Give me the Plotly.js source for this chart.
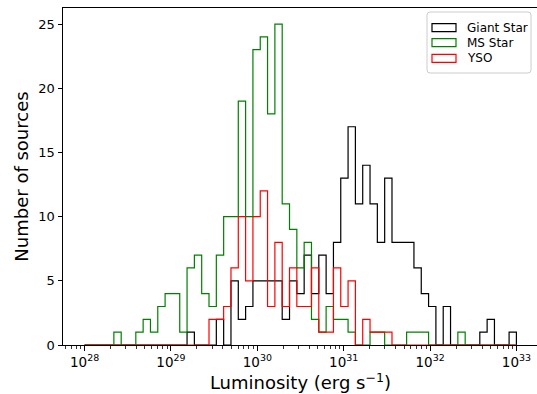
<!DOCTYPE html>
<html><head><meta charset="utf-8">
<script src="https://cdn.plot.ly/plotly-3.0.1.min.js"></script>
<style>html,body{margin:0;padding:0;overflow:hidden;background:#fff}#plot{width:540px;height:394px}</style>
</head><body><div id="plot"></div><script>
// Series and labels
const seriesNames = ['Giant Star', 'MS Star', 'YSO'];
const seriesColors = ['black', 'green', 'red'];
// histogram binning: log-spaced edges from 1e28 to 1e33
const logBinStart = 28, logBinStop = 33, binCount = 59;
// counts per bin
const giantStar = [0,0,0,0,0,0,0,0,0,0, 0,0,0,0,1,0,0,0,2,0, 5,2,3,5,5,5,5,2,5,4, 7,4,7,4,8,13,17,11,14,11, 8,13,8,8,8,6,4,3,0,3, 0,0,0,0,1,2,0,0,1];
const msStar    = [0,0,0,0,1,0,0,1,2,1, 3,4,4,1,6,7,4,3,7,10, 10,19,10,23,24,18,25,11,9,6, 8,2,1,3,2,2,1,0,0,1, 1,0,0,0,1,1,1,0,0,0, 0,1,0,0,0,0,0,0,0];
const yso       = [0,0,0,0,0,0,0,0,0,0, 0,0,0,0,0,0,0,2,2,3, 6,10,5,10,12,3,8,3,6,3, 3,6,1,1,6,3,5,0,2,1, 1,1,0,0,0,0,0,0,0,0, 0,0,0,0,0,0,0,0,0];
const xTickVals = [1e28, 1e29, 1e30, 1e31, 1e32, 1e33];
const xTickText = ['10<sup>28</sup>','10<sup>29</sup>','10<sup>30</sup>','10<sup>31</sup>','10<sup>32</sup>','10<sup>33</sup>'];
const yTickVals = [0, 5, 10, 15, 20, 25];
const xTitle = 'Luminosity (erg s<sup>\u22121</sup>)';
const yTitle = 'Number of sources';

const edges = [];
for (let k = 0; k <= binCount; k++) edges.push(Math.pow(10, logBinStart + (logBinStop - logBinStart) * k / binCount));

function stepTrace(counts, name, color) {
  const x = [edges[0]], y = [0];
  for (let k = 0; k < counts.length; k++) {
    x.push(edges[k], edges[k + 1]);
    y.push(counts[k], counts[k]);
  }
  x.push(edges[counts.length]); y.push(0);
  return {x, y, type: 'scatter', mode: 'lines', name, showlegend: false,
          line: {color, width: 1.2, shape: 'linear'}, hoverinfo: 'skip'};
}
const allCounts = [giantStar, msStar, yso];
const traces = allCounts.map((c, i) => stepTrace(c, seriesNames[i], seriesColors[i]));

const minorVals = [];
for (let d = 27; d <= 33; d++) for (let m = 2; m <= 9; m++) minorVals.push(m * Math.pow(10, d));

// manual legend (patch style)
const shapes = [];
const annotations = [];
const R = 3;
const bx0 = -111, bx1 = -7, by0 = -65, by1 = -4;
shapes.push({type: 'path', xref: 'paper', yref: 'paper', xsizemode: 'pixel', ysizemode: 'pixel', xanchor: 1, yanchor: 1,
  path: `M ${bx0+R} ${by1} L ${bx1-R} ${by1} Q ${bx1} ${by1} ${bx1} ${by1-R} L ${bx1} ${by0+R} Q ${bx1} ${by0} ${bx1-R} ${by0} L ${bx0+R} ${by0} Q ${bx0} ${by0} ${bx0} ${by0+R} L ${bx0} ${by1-R} Q ${bx0} ${by1} ${bx0+R} ${by1} Z`,
  line: {color: '#cccccc', width: 1}, fillcolor: 'rgba(255,255,255,0.8)'});
const rowY = [-19.7, -34.7, -50.3];
seriesNames.forEach((nm, i) => {
  shapes.push({type: 'rect', xref: 'paper', yref: 'paper', xsizemode: 'pixel', ysizemode: 'pixel', xanchor: 1, yanchor: 1,
    x0: -106, x1: -82, y0: rowY[i] - 4, y1: rowY[i] + 4, line: {color: seriesColors[i], width: 1.2}, fillcolor: 'rgba(0,0,0,0)'});
  annotations.push({xref: 'paper', yref: 'paper', x: 1, y: 1, xshift: -73, yshift: rowY[i], xanchor: 'left', yanchor: 'middle',
    text: nm, showarrow: false, font: {family: 'DejaVu Sans', size: 12, color: '#000'}});
});

const layout = {
  width: 540, height: 394,
  margin: {l: 63, r: 2, t: 8, b: 49},
  paper_bgcolor: '#fff', plot_bgcolor: '#fff',
  font: {family: 'DejaVu Sans', size: 12, color: '#000'},
  showlegend: false,
  xaxis: {type: 'log', range: [27.75, 33.25], showgrid: false, zeroline: false,
    showline: true, linecolor: '#000', linewidth: 1, mirror: true,
    tickmode: 'array', tickvals: xTickVals, ticktext: xTickText,
    ticks: 'outside', ticklen: 4.5, tickwidth: 1, tickcolor: '#000',
    tickfont: {family: 'DejaVu Sans', size: 13.5},
    minor: {tickmode: 'array', tickvals: minorVals, ticks: 'outside', ticklen: 2.5, tickwidth: 0.8, tickcolor: '#000', showgrid: false},
    title: {text: xTitle, font: {family: 'DejaVu Sans', size: 18}, standoff: 5}},
  yaxis: {range: [0, 26.25], showgrid: false, zeroline: false,
    showline: true, linecolor: '#000', linewidth: 1, mirror: true,
    tickmode: 'array', tickvals: yTickVals,
    ticks: 'outside', ticklen: 4.5, tickwidth: 1, tickcolor: '#000',
    tickfont: {family: 'DejaVu Sans', size: 13},
    title: {text: yTitle, font: {family: 'DejaVu Sans', size: 18}, standoff: 5}},
  shapes, annotations
};
Plotly.newPlot('plot', traces, layout, {displayModeBar: false, staticPlot: true});
</script></body></html>
